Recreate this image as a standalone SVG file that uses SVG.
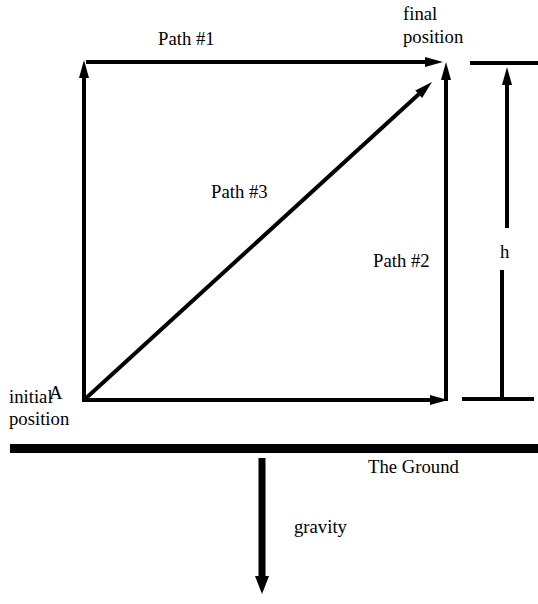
<svg xmlns="http://www.w3.org/2000/svg" width="538" height="604" viewBox="0 0 538 604">
<style>
text{font-family:'Liberation Serif','DejaVu Serif','Times New Roman',Times,serif;font-size:18.7px;fill:#000}
.ln{stroke:#000;stroke-width:4;fill:none;stroke-linecap:butt}
</style>
<defs>
<marker id="ah" markerUnits="userSpaceOnUse" markerWidth="18" markerHeight="10" refX="0" refY="5" orient="auto" overflow="visible">
<path d="M0,0 L18,5 L0,10 z" fill="#000"/>
</marker>
<marker id="ahBig" markerUnits="userSpaceOnUse" markerWidth="18" markerHeight="14" refX="0" refY="7" orient="auto" overflow="visible">
<path d="M0,0 L18,7 L0,14 z" fill="#000"/>
</marker>
</defs>
<rect width="538" height="604" fill="#fff"/>
<g id="connectors">
<line class="ln" x1="84" y1="402" x2="84" y2="78" marker-end="url(#ah)"/>
<line class="ln" x1="86" y1="62" x2="425" y2="62" marker-end="url(#ah)"/>
<line class="ln" x1="446" y1="401" x2="446" y2="80" marker-end="url(#ah)"/>
<line class="ln" x1="84" y1="400" x2="430" y2="400" marker-end="url(#ah)"/>
<line class="ln" x1="84" y1="400" x2="418.7" y2="94.2" marker-end="url(#ah)"/>
<line class="ln" x1="470" y1="63" x2="538" y2="63"/>
<line class="ln" x1="462" y1="399" x2="534" y2="399"/>
<line class="ln" x1="507" y1="228" x2="507" y2="85" marker-end="url(#ah)"/>
<line class="ln" x1="502" y1="270" x2="502" y2="399"/>
<line x1="262" y1="458" x2="262" y2="576" stroke="#000" stroke-width="7" marker-end="url(#ahBig)"/>
</g>
<g id="ground"><rect x="10" y="444" width="528" height="9" fill="#000"/></g>
<g id="path1-label"><text x="158" y="45">Path #1</text></g>
<g id="final-position"><text x="403" y="20">final</text><text x="403" y="43">position</text></g>
<g id="path3-label"><text x="211" y="198">Path #3</text></g>
<g id="path2-label"><text x="373" y="267">Path #2</text></g>
<g id="h-label"><text x="500" y="258">h</text></g>
<g id="initial-position"><text x="9" y="403">initial</text><text x="49" y="399">A</text><text x="9" y="425">position</text></g>
<g id="ground-label"><text x="368" y="473">The Ground</text></g>
<g id="gravity-label"><text x="294" y="533">gravity</text></g>
</svg>
